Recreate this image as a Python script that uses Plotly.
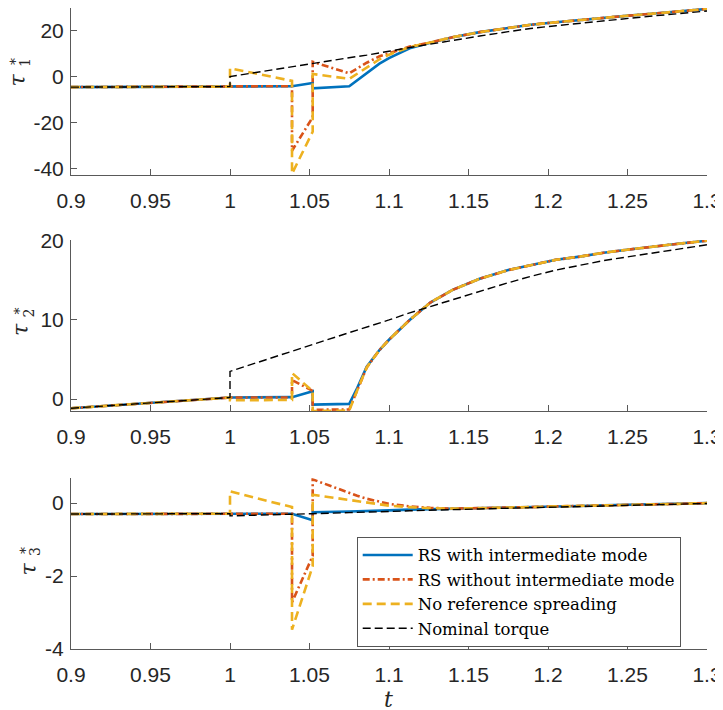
import plotly.graph_objects as go
from plotly.subplots import make_subplots

# time samples (repeated values = jumps)
t = [0.9, 0.95, 1.0, 1.0, 1.039, 1.039, 1.052, 1.052, 1.075, 1.08, 1.086, 1.094,
     1.1, 1.113, 1.126, 1.14, 1.157, 1.175, 1.189, 1.205, 1.22, 1.235, 1.251,
     1.267, 1.283, 1.3]

# tau_1*
tau1_rs_int = [-4.6, -4.5, -4.4, -4.4, -4.2, -4.2, -2.8, -5.1, -4.2, -1.6, 1.8, 5.6,
               8.0, 12.3, 14.7, 17.1, 19.3, 21.2, 22.5, 23.6, 24.6, 25.6, 26.5, 27.4, 28.5, 29.4]
tau1_rs_noint = [-4.6, -4.5, -4.4, -4.4, -4.2, -32.3, -17.7, 6.4, 1.4, 3.5, 6.0, 8.8,
                 10.2, 13.0, 14.8, 17.1, 19.3, 21.2, 22.5, 23.6, 24.6, 25.6, 26.5, 27.4, 28.5, 29.4]
tau1_norefs = [-4.6, -4.5, -4.4, 3.6, -1.9, -42.3, -24.0, 1.1, -1.0, 1.2, 3.9, 7.5,
               9.5, 12.8, 14.8, 17.1, 19.3, 21.2, 22.5, 23.6, 24.6, 25.6, 26.5, 27.4, 28.5, 29.4]
tau1_nom = [-4.6, -4.5, -4.4, 0.0, 4.4, 4.4, 5.8, 5.8, 8.2, 8.7, 9.3, 10.4,
            11.0, 12.6, 14.1, 15.8, 17.6, 19.5, 20.9, 22.1, 23.2, 24.3, 25.3, 26.4, 27.4, 28.5]

# tau_2*
tau2_rs_int = [-1.15, -0.5, 0.2, 0.2, 0.25, 0.25, 1.0, -0.7, -0.6, 1.4, 4.1, 6.2,
               7.5, 10.0, 12.2, 13.8, 15.2, 16.3, 16.9, 17.6, 18.0, 18.5, 18.9, 19.3, 19.65, 20.0]
tau2_rs_noint = [-1.15, -0.5, 0.2, 0.2, 0.2, 2.4, 1.05, -1.35, -1.3, 1.2, 4.0, 6.2,
                 7.5, 10.0, 12.2, 13.8, 15.2, 16.3, 16.9, 17.6, 18.0, 18.5, 18.9, 19.3, 19.65, 20.0]
tau2_norefs = [-1.15, -0.5, 0.2, -0.15, -0.1, 3.3, 1.0, -1.5, -1.45, 1.1, 4.0, 6.2,
               7.5, 10.0, 12.2, 13.8, 15.2, 16.3, 16.9, 17.6, 18.0, 18.5, 18.9, 19.3, 19.65, 20.0]
tau2_nom = [-1.15, -0.5, 0.2, 3.5, 6.1, 6.1, 6.9, 6.9, 8.4, 8.7, 9.1, 9.6,
            10.0, 10.9, 11.7, 12.6, 13.6, 14.7, 15.5, 16.3, 16.9, 17.5, 18.0, 18.5, 19.0, 19.5]

# tau_3*
tau3_rs_int = [-0.3, -0.29, -0.29, -0.29, -0.29, -0.29, -0.47, -0.25, -0.23, -0.22, -0.21, -0.2,
               -0.2, -0.18, -0.17, -0.15, -0.14, -0.12, -0.11, -0.09, -0.08, -0.06, -0.05, -0.03, -0.02, 0.0]
tau3_rs_noint = [-0.3, -0.29, -0.29, -0.29, -0.29, -2.72, -1.45, 0.65, 0.27, 0.2, 0.12, 0.03,
                 -0.02, -0.09, -0.13, -0.15, -0.14, -0.12, -0.11, -0.09, -0.08, -0.06, -0.05, -0.03, -0.02, 0.0]
tau3_norefs = [-0.3, -0.29, -0.29, 0.32, -0.11, -3.47, -1.73, 0.23, 0.08, 0.05, 0.01, -0.05,
               -0.07, -0.11, -0.14, -0.15, -0.14, -0.12, -0.11, -0.09, -0.08, -0.06, -0.05, -0.03, -0.02, 0.0]
tau3_nom = [-0.3, -0.29, -0.29, -0.35, -0.32, -0.32, -0.29, -0.29, -0.26, -0.25, -0.25, -0.24,
            -0.23, -0.21, -0.2, -0.18, -0.16, -0.14, -0.13, -0.11, -0.1, -0.08, -0.06, -0.05, -0.03, -0.01]

names = ["RS with intermediate mode", "RS without intermediate mode",
         "No reference spreading", "Nominal torque"]

x_ticks = [0.9, 0.95, 1.0, 1.05, 1.1, 1.15, 1.2, 1.25, 1.3]
x_ticktext = ["0.9", "0.95", "1", "1.05", "1.1", "1.15", "1.2", "1.25", "1.3"]
y1_ticks = [-40, -20, 0, 20]
y2_ticks = [0, 10, 20]
y3_ticks = [-4, -2, 0]

series = [
    [tau1_rs_int, tau1_rs_noint, tau1_norefs, tau1_nom],
    [tau2_rs_int, tau2_rs_noint, tau2_norefs, tau2_nom],
    [tau3_rs_int, tau3_rs_noint, tau3_norefs, tau3_nom],
]
styles = [
    dict(color="#0072BD", width=2.6, dash="solid"),
    dict(color="#D95319", width=2.6, dash="7px,3px,2px,3px"),
    dict(color="#EDB120", width=2.6, dash="9px,5px"),
    dict(color="black", width=1.4, dash="8px,4px"),
]

# the page body keeps an 8px margin, so the figure starts 8px in from the corner
OFF = 8
W, H = 723 - OFF, 710 - OFF
L, R, T, B = 63, 16, 0, 61
PW, PH = W - L - R, H - T - B


# helpers: window pixel -> paper fraction
def px_x(x):
    return (x - OFF - L) / PW


def px_y(y):
    return (H - B - (y - OFF)) / PH


def dom(top, bottom):
    return [max(0.0, px_y(bottom)), min(1.0, px_y(top))]


fig = make_subplots(rows=3, cols=1)

for r, rows in enumerate(series):
    for k, vals in enumerate(rows):
        fig.add_trace(go.Scatter(x=t, y=vals, mode="lines", name=names[k],
                                 line=styles[k], legendgroup=names[k],
                                 showlegend=(r == 0)), row=r + 1, col=1)

axis_col = "#595959"
tick_font = dict(family="Liberation Sans, Arial, sans-serif", size=21, color="#262626")
for i in range(1, 4):
    fig.update_xaxes(range=[0.9, 1.3], tickvals=x_ticks, ticktext=x_ticktext,
                     showline=True, linecolor=axis_col, linewidth=1, ticks="inside",
                     ticklen=6, tickcolor=axis_col, showgrid=False, zeroline=False,
                     tickfont=tick_font, ticklabelstandoff=7, row=i, col=1)
    fig.update_yaxes(showline=True, linecolor=axis_col, linewidth=1, ticks="inside",
                     ticklen=6, tickcolor=axis_col, showgrid=False, zeroline=False,
                     tickfont=tick_font, ticklabelstandoff=2, row=i, col=1)

fig.update_layout(
    yaxis=dict(domain=dom(8, 174.7), range=[-42.7, 29.8],
               tickvals=y1_ticks, ticktext=[str(v) for v in y1_ticks]),
    yaxis2=dict(domain=dom(240, 411), range=[-1.5, 20.1],
                tickvals=y2_ticks, ticktext=[str(v) for v in y2_ticks]),
    yaxis3=dict(domain=dom(478.3, 649.3), range=[-4.0, 0.68],
                tickvals=y3_ticks, ticktext=[str(v) for v in y3_ticks]),
)

# y labels: tau with a stacked star and subscript
lab_font = dict(family="DejaVu Serif, serif", size=22, color="#262626")
small_font = dict(family="DejaVu Serif, serif", size=14, color="#262626")
labels = [("1", 17.5, 80), ("2", 21, 330), ("3", 27.5, 569)]
for sub, cx, cy in labels:
    fig.add_annotation(x=px_x(cx), y=px_y(cy), xref="paper", yref="paper",
                       text="<i>τ</i>", showarrow=False, textangle=-90,
                       font=lab_font, xanchor="center", yanchor="middle")
    fig.add_annotation(x=px_x(cx - 5.5), y=px_y(cy - 19), xref="paper", yref="paper",
                       text="∗", showarrow=False, textangle=-90,
                       font=small_font, xanchor="center", yanchor="middle")
    fig.add_annotation(x=px_x(cx + 7.5), y=px_y(cy - 17), xref="paper", yref="paper",
                       text=sub, showarrow=False, textangle=-90,
                       font=small_font, xanchor="center", yanchor="middle")

fig.add_annotation(x=px_x(388), y=-(699 - OFF - (H - B)) / PH, xref="paper", yref="paper",
                   text="<i>t</i>", showarrow=False,
                   font=dict(family="DejaVu Serif, serif", size=22, color="#262626"),
                   xanchor="center", yanchor="middle")

fig.update_layout(
    width=W, height=H,
    margin=dict(l=L, r=R, t=T, b=B, autoexpand=False),
    plot_bgcolor="white", paper_bgcolor="white",
    legend=dict(x=px_x(356.7), y=px_y(536.7), xanchor="left", yanchor="top",
                bgcolor="white", bordercolor="#555555", borderwidth=1,
                font=dict(family="DejaVu Serif, serif", size=16.5, color="black"),
                itemwidth=50, tracegroupgap=0),
)

fig.write_html("out.html")
